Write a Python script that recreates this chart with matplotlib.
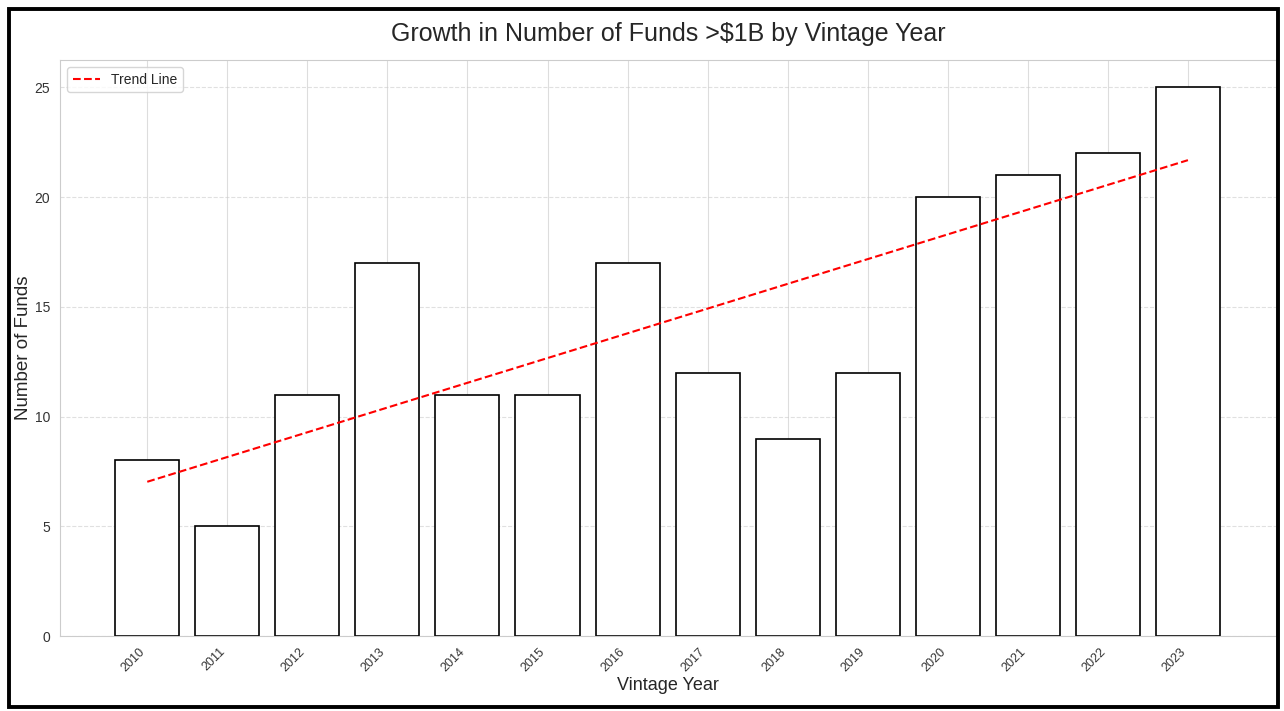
import numpy as np
import matplotlib.pyplot as plt
import seaborn as sns
from matplotlib.patches import Rectangle

# Data
years = [2010, 2011, 2012, 2013, 2014, 2015, 2016, 2017, 2018, 2019, 2020, 2021, 2022, 2023]
num_funds = [8, 5, 11, 17, 11, 11, 17, 12, 9, 12, 20, 21, 22, 25]

sns.set_style('whitegrid')
plt.rcParams['font.family'] = ['Liberation Sans', 'DejaVu Sans']

fig = plt.figure(figsize=(12.84, 7.11), dpi=100)
ax = fig.add_axes([60/1284, 1 - 636/711, (1276 - 60)/1284, (636 - 60)/711])

x = np.arange(len(years))
ax.bar(x, num_funds, width=0.8, color='white', edgecolor='black', linewidth=1.2, zorder=2)

# Trend line from linear fit
coef = np.polyfit(x, num_funds, 1)
ax.plot(x, np.polyval(coef, x), 'r--', linewidth=1.5, label='Trend Line', zorder=3)

ax.set_xticks(x)
ax.set_xticklabels(years, rotation=45, ha='right', fontsize=9, color='#333333')
ax.tick_params(axis='y', labelsize=10, colors='#333333')
ax.set_xlim(-1.09, 14.1)
ax.grid(axis='y', linestyle='--', alpha=0.6)
ax.grid(axis='x', linestyle='-', color='#dddddd')
for s in ax.spines.values():
    s.set_color('#cccccc')

ax.set_xlabel('Vintage Year', fontsize=13, labelpad=2)
ax.set_ylabel('Number of Funds', fontsize=13.5, labelpad=2)
ax.set_title('Growth in Number of Funds >$1B by Vintage Year', fontsize=18, pad=14)
ax.legend(loc='upper left', fontsize=10)

# Black frame round the figure
fig.patches.append(Rectangle((0.007, 0.006), 0.988, 0.982, transform=fig.transFigure,
                             fill=False, edgecolor='black', linewidth=2.8))

fig.savefig('out.png', dpi=100)
